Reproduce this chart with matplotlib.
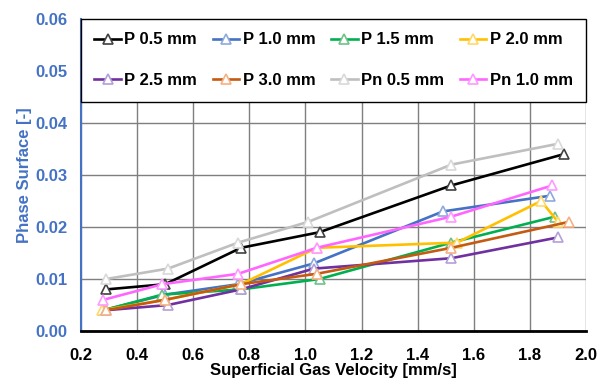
import matplotlib

matplotlib.use("Agg")

import matplotlib.pyplot as plt

plt.rcParams["font.family"] = ["Liberation Sans", "DejaVu Sans"]
plt.rcParams["font.weight"] = "bold"

labels = ["P 0.5 mm", "P 1.0 mm", "P 1.5 mm", "P 2.0 mm",
          "P 2.5 mm", "P 3.0 mm", "Pn 0.5 mm", "Pn 1.0 mm"]

x_p05 = [0.29, 0.50, 0.77, 1.05, 1.52, 1.92]
y_p05 = [0.008, 0.009, 0.016, 0.019, 0.028, 0.034]
x_p10 = [0.28, 0.50, 0.76, 1.03, 1.49, 1.87]
y_p10 = [0.004, 0.007, 0.009, 0.013, 0.023, 0.026]
x_p15 = [0.28, 0.49, 0.77, 1.05, 1.52, 1.89]
y_p15 = [0.004, 0.007, 0.008, 0.010, 0.017, 0.022]
x_p20 = [0.275, 0.50, 0.77, 1.04, 1.54, 1.84, 1.90]
y_p20 = [0.004, 0.006, 0.009, 0.016, 0.017, 0.025, 0.021]
x_p25 = [0.29, 0.51, 0.77, 1.03, 1.52, 1.90]
y_p25 = [0.004, 0.005, 0.008, 0.012, 0.014, 0.018]
x_p30 = [0.29, 0.50, 0.77, 1.04, 1.52, 1.94]
y_p30 = [0.004, 0.006, 0.009, 0.011, 0.016, 0.021]
x_pn05 = [0.29, 0.51, 0.76, 1.01, 1.52, 1.90]
y_pn05 = [0.010, 0.012, 0.017, 0.021, 0.032, 0.036]
x_pn10 = [0.28, 0.49, 0.76, 1.04, 1.52, 1.88]
y_pn10 = [0.006, 0.009, 0.011, 0.016, 0.022, 0.028]

xs = [x_p05, x_p10, x_p15, x_p20, x_p25, x_p30, x_pn05, x_pn10]
ys = [y_p05, y_p10, y_p15, y_p20, y_p25, y_p30, y_pn05, y_pn10]

line_colors = ["#000000", "#4472C4", "#00B050", "#FFC000",
               "#7030A0", "#C55A11", "#BFBFBF", "#FF66FF"]
marker_colors = ["#404040", "#8EA9DB", "#70C08A", "#FFD966",
                 "#B4A0D8", "#F4B183", "#D9D9D9", "#FF99FF"]

BLUE = "#4472C4"

fig = plt.figure(figsize=(5.98, 3.78), dpi=100)
ax = fig.add_axes([0.1355, 0.1243, 0.8445, 0.8254])

handles = []
for x, y, label, lc, mc in zip(xs, ys, labels, line_colors, marker_colors):
    h, = ax.plot(x, y, color=lc, linewidth=1.9, marker="^", markersize=7,
                 markerfacecolor="white", markeredgecolor=mc, markeredgewidth=1.2,
                 label=label, zorder=3)
    handles.append(h)

ax.set_xlim(0.2, 2.0)
ax.set_ylim(0.0, 0.06)
ax.set_xticks([0.2, 0.4, 0.6, 0.8, 1.0, 1.2, 1.4, 1.6, 1.8, 2.0])
ax.set_yticks([0.0, 0.01, 0.02, 0.03, 0.04, 0.05, 0.06])
ax.set_xticklabels([f"{v:.1f}" for v in ax.get_xticks()])
ax.set_yticklabels([f"{v:.2f}" for v in ax.get_yticks()])

ax.grid(True, color="#7f7f7f", linewidth=1.0)
ax.set_axisbelow(True)
ax.tick_params(axis="both", length=0, labelsize=12)
ax.tick_params(axis="x", pad=12, colors="black")
ax.tick_params(axis="y", pad=10, labelcolor=BLUE)

for side in ["top", "right"]:
    ax.spines[side].set_visible(False)
ax.spines["left"].set_color(BLUE)
ax.spines["left"].set_linewidth(1.5)
ax.spines["bottom"].set_color("black")
ax.spines["bottom"].set_linewidth(2.0)

ax.set_xlabel("Superficial Gas Velocity [mm/s]", fontsize=12, fontweight="bold", labelpad=0)
ax.set_ylabel("Phase Surface [-]", fontsize=12, fontweight="bold", color=BLUE, labelpad=2)

# legend fills row by row, matplotlib fills column by column
order = [0, 4, 1, 5, 2, 6, 3, 7]
leg = ax.legend([handles[i] for i in order], [labels[i] for i in order],
                ncol=4, loc="upper left", bbox_to_anchor=(0, 0, 1, 1), mode="expand",
                fontsize=12, frameon=True, fancybox=False, borderaxespad=0,
                handlelength=1.6, handletextpad=0.2, columnspacing=0.8,
                labelspacing=1.55, borderpad=0.8)
leg.get_frame().set_edgecolor("black")
leg.get_frame().set_linewidth(1.0)
leg.get_frame().set_alpha(1.0)

fig.savefig("out.png", dpi=100)
